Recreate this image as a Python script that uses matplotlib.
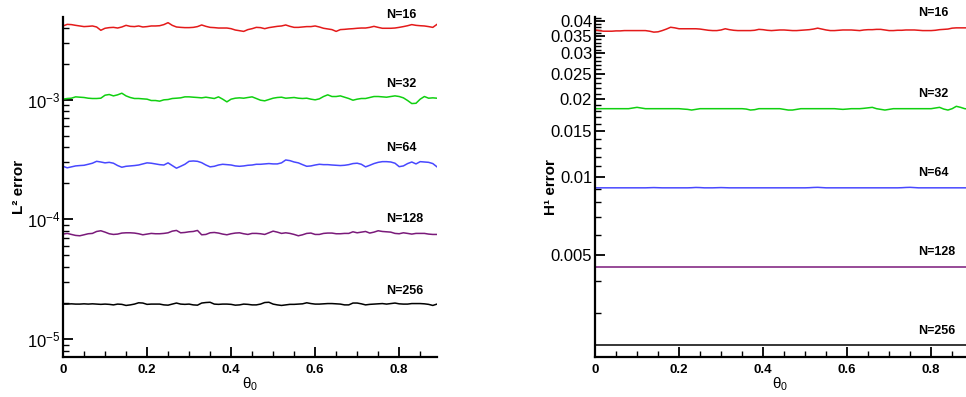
import numpy as np
import matplotlib
matplotlib.use("Agg")
import matplotlib.pyplot as plt
from matplotlib.ticker import FixedLocator, LogLocator, NullFormatter, FormatStrFormatter, MultipleLocator

plt.rcParams["font.family"] = ["Liberation Sans", "DejaVu Sans"]
plt.rcParams["mathtext.fontset"] = "custom"
plt.rcParams["mathtext.rm"] = "Liberation Sans"
plt.rcParams["mathtext.it"] = "Liberation Sans:italic"
plt.rcParams["mathtext.bf"] = "Liberation Sans:bold"

# theta_0 samples (step 0.01)
theta = np.arange(90) * 0.01

# L2 error
l2_n16 = np.array([
    4.14, 4.27, 4.25, 4.19, 4.14, 4.09, 4.11, 4.14, 4.06, 3.81,
    3.96, 4.01, 4.03, 3.98, 4.06, 4.19, 4.11, 4.09, 4.14, 4.06,
    4.09, 4.14, 4.14, 4.16, 4.25, 4.41, 4.19, 4.06, 4.03, 4.01,
    4.01, 4.03, 4.09, 4.22, 4.11, 4.03, 4.01, 3.98, 3.98, 3.98,
    3.93, 3.83, 3.78, 3.73, 3.86, 3.93, 4.03, 4.01, 3.93, 4.01,
    4.06, 4.11, 4.14, 4.22, 4.11, 4.03, 4.03, 4.06, 4.09, 4.09,
    4.14, 4.06, 3.96, 3.91, 3.86, 3.73, 3.86, 3.88, 3.91, 3.93,
    3.96, 3.98, 3.98, 4.03, 4.11, 4.03, 3.96, 3.96, 3.96, 3.98,
    4.03, 4.09, 4.16, 4.25, 4.19, 4.16, 4.14, 4.09, 4.03, 4.27]) * 1e-3
l2_n32 = np.array([
    1.012, 1.025, 1.031, 1.058, 1.051, 1.045, 1.031, 1.025, 1.025, 1.031,
    1.092, 1.107, 1.078, 1.100, 1.135, 1.078, 1.045, 1.025, 1.025, 1.018,
    1.012, 0.986, 0.986, 0.974, 0.999, 1.005, 1.025, 1.031, 1.038, 1.058,
    1.058, 1.051, 1.045, 1.038, 1.051, 1.038, 1.025, 1.058, 1.012, 0.961,
    1.012, 1.031, 1.038, 1.031, 1.045, 1.058, 1.025, 0.992, 0.980, 1.005,
    1.031, 1.045, 1.051, 1.031, 1.038, 1.045, 1.031, 1.025, 1.031, 1.012,
    0.999, 1.018, 1.065, 1.100, 1.065, 1.065, 1.078, 1.051, 1.025, 0.992,
    1.012, 1.025, 1.025, 1.045, 1.065, 1.065, 1.058, 1.051, 1.065, 1.078,
    1.065, 1.038, 0.986, 0.930, 0.935, 1.012, 1.065, 1.031, 1.038, 1.031]) * 1e-3
l2_n64 = np.array([
    2.78, 2.70, 2.75, 2.80, 2.82, 2.835, 2.89, 2.95, 3.06, 3.02,
    2.97, 3.00, 2.95, 2.82, 2.73, 2.78, 2.80, 2.82, 2.85, 2.91,
    2.97, 2.95, 2.91, 2.87, 2.85, 2.97, 2.82, 2.68, 2.78, 2.89,
    3.06, 3.08, 3.06, 2.98, 2.85, 2.75, 2.78, 2.85, 2.89, 2.87,
    2.85, 2.80, 2.78, 2.80, 2.835, 2.85, 2.89, 2.89, 2.91, 2.93,
    2.91, 2.91, 2.97, 3.14, 3.10, 3.02, 2.97, 2.87, 2.78, 2.80,
    2.85, 2.89, 2.87, 2.87, 2.85, 2.835, 2.82, 2.835, 2.87, 2.93,
    2.95, 2.89, 2.75, 2.835, 2.93, 3.00, 3.04, 3.04, 3.02, 2.95,
    2.76, 2.80, 2.93, 3.02, 2.91, 3.04, 3.02, 3.00, 2.93, 2.75]) * 1e-4
l2_n128 = np.array([
    7.54, 7.64, 7.49, 7.35, 7.30, 7.44, 7.59, 7.64, 7.93, 8.04,
    7.83, 7.59, 7.49, 7.54, 7.69, 7.73, 7.73, 7.69, 7.59, 7.44,
    7.54, 7.64, 7.59, 7.59, 7.64, 7.73, 7.98, 8.09, 7.73, 7.78,
    7.88, 7.93, 8.09, 7.44, 7.49, 7.73, 7.78, 7.69, 7.54, 7.44,
    7.59, 7.69, 7.73, 7.59, 7.49, 7.64, 7.64, 7.59, 7.49, 7.73,
    7.98, 7.83, 7.64, 7.73, 7.64, 7.49, 7.30, 7.44, 7.64, 7.69,
    7.49, 7.49, 7.64, 7.69, 7.69, 7.59, 7.59, 7.64, 7.64, 7.88,
    7.73, 7.83, 7.93, 7.69, 7.83, 8.04, 7.93, 7.88, 7.83, 7.64,
    7.59, 7.73, 7.64, 7.54, 7.64, 7.64, 7.64, 7.54, 7.49, 7.49]) * 1e-5
l2_n256 = np.array([
    1.96, 1.96, 1.97, 1.96, 1.96, 1.97, 1.96, 1.97, 1.96, 1.95,
    1.96, 1.95, 1.93, 1.96, 1.95, 1.91, 1.93, 1.96, 2.01, 2.00,
    1.95, 1.96, 1.96, 1.96, 1.93, 1.92, 1.96, 2.00, 1.96, 1.95,
    1.96, 1.93, 1.92, 2.00, 2.02, 2.03, 1.96, 1.95, 1.96, 1.96,
    1.95, 1.92, 1.93, 1.96, 1.95, 1.93, 1.93, 1.96, 2.02, 2.03,
    1.96, 1.93, 1.91, 1.93, 1.95, 1.95, 1.96, 1.97, 2.01, 1.98,
    1.96, 1.96, 1.97, 1.98, 1.98, 1.97, 1.96, 1.93, 1.93, 2.00,
    2.00, 1.97, 1.93, 1.95, 1.96, 1.97, 1.98, 1.96, 1.98, 2.00,
    1.97, 1.96, 1.96, 1.98, 1.98, 1.98, 1.97, 1.95, 1.91, 1.96]) * 1e-5

# H1 error
h1_n16 = np.array([
    369, 367, 365, 365, 365, 366, 366, 367, 367, 367,
    367, 367, 367, 365, 362, 363, 367, 372, 378, 376,
    373, 373, 373, 373, 373, 372, 370, 368, 367, 367,
    369, 373, 370, 368, 367, 367, 367, 367, 368, 371,
    370, 368, 367, 368, 369, 369, 368, 367, 367, 368,
    369, 370, 372, 375, 372, 369, 367, 367, 368, 369,
    369, 369, 368, 367, 369, 370, 370, 371, 371, 369,
    367, 367, 368, 368, 369, 369, 369, 368, 367, 367,
    367, 368, 370, 371, 372, 375, 376, 376, 376, 376]) * 1e-4
h1_n32 = np.array([
    1836, 1836, 1836, 1836, 1836, 1836, 1836, 1836, 1836, 1847,
    1858, 1847, 1836, 1836, 1836, 1836, 1836, 1836, 1836, 1836,
    1836, 1830, 1825, 1814, 1825, 1836, 1836, 1836, 1836, 1836,
    1836, 1836, 1836, 1836, 1836, 1836, 1830, 1814, 1820, 1836,
    1836, 1836, 1836, 1836, 1836, 1825, 1814, 1814, 1825, 1836,
    1836, 1836, 1836, 1836, 1836, 1836, 1836, 1836, 1830, 1825,
    1830, 1836, 1836, 1836, 1842, 1850, 1858, 1836, 1825, 1814,
    1825, 1836, 1836, 1836, 1836, 1836, 1836, 1836, 1836, 1836,
    1836, 1847, 1858, 1830, 1814, 1836, 1875, 1858, 1836, 1830]) * 1e-5
h1_n64 = np.array([
    910, 910, 910, 910, 910, 910, 910, 910, 910, 910,
    910, 910, 910, 911, 912, 911, 910, 910, 910, 910,
    910, 910, 910, 911, 913, 912, 910, 910, 910, 911,
    912, 911, 910, 910, 910, 910, 910, 910, 910, 910,
    910, 910, 910, 910, 910, 910, 910, 910, 910, 910,
    910, 911, 913, 914, 912, 910, 910, 910, 910, 910,
    910, 910, 910, 910, 910, 910, 910, 910, 910, 910,
    910, 910, 910, 911, 913, 914, 912, 910, 910, 910,
    910, 910, 910, 910, 910, 910, 910, 910, 910, 910]) * 1e-5
flat_theta = [0.0, 0.89]
h1_n128 = [4.51e-3, 4.51e-3]
h1_n256 = [2.255e-3, 2.255e-3]

labels = ["N=16", "N=32", "N=64", "N=128", "N=256"]
colors = ["#e41a1a", "#10d010", "#4848ff", "#7a1a7a", "#000000"]

W, H = 966, 397
fig = plt.figure(figsize=(W / 100, H / 100), dpi=100)
ax1 = fig.add_axes([63 / W, 40 / H, (437 - 63) / W, 340 / H])
ax2 = fig.add_axes([595 / W, 40 / H, (966 - 595) / W, 340 / H])


def style_axis(ax):
    for s in ["top", "right"]:
        ax.spines[s].set_visible(False)
    for s in ["left", "bottom"]:
        ax.spines[s].set_linewidth(1.6)
    ax.tick_params(which="major", direction="in", length=7, width=1.3)
    ax.tick_params(which="minor", direction="in", length=4, width=1.0)
    ax.tick_params(axis="y", labelsize=12, pad=2)
    ax.tick_params(axis="x", labelsize=9.5, pad=5)
    for t in ax.get_xticklabels():
        t.set_fontweight("bold")
    ax.xaxis.set_major_locator(MultipleLocator(0.2))
    ax.xaxis.set_minor_locator(MultipleLocator(0.05))
    ax.xaxis.set_major_formatter(FormatStrFormatter("%g"))
    ax.set_xlabel(r"$\mathrm{\theta_0}$", fontsize=11)
    ax.xaxis.set_label_coords(0.5, -0.056)
    ax.yaxis.set_label_coords(-0.1, 0.5)


# left panel
ax1.set_yscale("log")
series1 = [l2_n16, l2_n32, l2_n64, l2_n128, l2_n256]
for y, lab, c in zip(series1, labels, colors):
    ax1.plot(theta, y, color=c, lw=1.1)
    ax1.annotate(lab, (0.77, y[77]), xytext=(0, 9.5), textcoords="offset points",
                 fontsize=9, fontweight="bold", va="center", ha="left")
ax1.set_xlim(0, 0.89)
ax1.set_ylim(7.08e-6, 4.92e-3)
ax1.yaxis.set_major_locator(LogLocator(base=10))
ax1.yaxis.set_minor_locator(LogLocator(base=10, subs=np.arange(2, 10)))
ax1.yaxis.set_minor_formatter(NullFormatter())
ax1.set_ylabel("L² error", fontsize=11, fontweight="bold")
style_axis(ax1)

# right panel
ax2.set_yscale("log")
series2 = [(theta, h1_n16), (theta, h1_n32), (theta, h1_n64),
           (flat_theta, h1_n128), (flat_theta, h1_n256)]
for (x, y), lab, c in zip(series2, labels, colors):
    ax2.plot(x, y, color=c, lw=1.1)
    ax2.annotate(lab, (0.77, y[-1]), xytext=(0, 10.5), textcoords="offset points",
                 fontsize=9, fontweight="bold", va="center", ha="left")
ax2.set_xlim(0, 0.883)
ax2.set_ylim(2.03e-3, 4.14e-2)
major = [0.005, 0.01, 0.015, 0.02, 0.025, 0.03, 0.035, 0.04]
minor = [k / 1000 for k in range(2, 42) if k % 5 != 0]
ax2.yaxis.set_major_locator(FixedLocator(major))
ax2.yaxis.set_minor_locator(FixedLocator(minor))
ax2.yaxis.set_major_formatter(FormatStrFormatter("%g"))
ax2.yaxis.set_minor_formatter(NullFormatter())
ax2.set_ylabel("H¹ error", fontsize=11, fontweight="bold")
style_axis(ax2)

fig.savefig("out.png", dpi=100)
